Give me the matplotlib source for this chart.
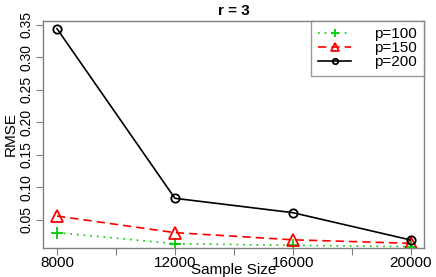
import matplotlib
matplotlib.use("Agg")
import matplotlib.pyplot as plt

plt.rcParams['font.family'] = ['Liberation Sans', 'DejaVu Sans']

sample_size = [8000, 12000, 16000, 20000]
rmse_p100 = [0.0305, 0.0135, 0.011, 0.0089]
rmse_p150 = [0.056, 0.0305, 0.0195, 0.0141]
rmse_p200 = [0.344, 0.0833, 0.0612, 0.0192]
y_ticks = [0.05, 0.10, 0.15, 0.20, 0.25, 0.30, 0.35]

fig = plt.figure(figsize=(4.36, 2.77), dpi=100)
ax = fig.add_axes([43/436, 1 - 248/277, (424-43)/436, (248-20.5)/277])

ax.plot(sample_size, rmse_p100, color='#00CD00', linestyle=(0, (1, 3)), lw=1.2,
        marker='+', markersize=9, markeredgewidth=1.3, label='p=100')
ax.plot(sample_size, rmse_p150, color='red', linestyle=(0, (5, 3)), lw=1.2,
        marker='^', markersize=8, markerfacecolor='none', markeredgewidth=1.3, label='p=150')
ax.plot(sample_size, rmse_p200, color='black', linestyle='-', lw=1.2,
        marker='o', markersize=6, markerfacecolor='none', markeredgewidth=1.3, label='p=200')

ax.set_xlim(7525, 20450)
ax.set_ylim(0.0069, 0.3566)
ax.set_xticks(sample_size)
ax.set_xticks([10000, 14000, 18000], minor=True)
ax.set_xticklabels([str(s) for s in sample_size], fontsize=11)
ax.set_yticks(y_ticks)
ax.set_yticklabels(['%.2f' % v for v in y_ticks], rotation=90, va='center', fontsize=10)
ax.tick_params(axis='both', which='both', direction='out', length=5, color='#808080', width=0.8, pad=2)
ax.tick_params(axis='x', pad=1)
for s in ax.spines.values():
    s.set_color('#808080')
    s.set_linewidth(1)

ax.set_title('r = 3', fontsize=11, fontweight='bold', pad=4)
ax.set_xlabel('Sample Size', fontsize=11)
ax.xaxis.set_label_coords(0.5, -(270 - 248) / (248 - 20.5), transform=ax.transAxes)
ax.xaxis.label.set_va('center')
ax.set_ylabel('RMSE', fontsize=11, labelpad=1)

leg = ax.legend(loc='upper right', fontsize=11, frameon=True, fancybox=False,
                borderaxespad=0, handlelength=2.2, handletextpad=1.5,
                labelspacing=0.0, borderpad=0.45, markerscale=0.65)
leg.get_frame().set_edgecolor('#808080')
leg.get_frame().set_linewidth(1)

fig.savefig('out.png', dpi=100)
